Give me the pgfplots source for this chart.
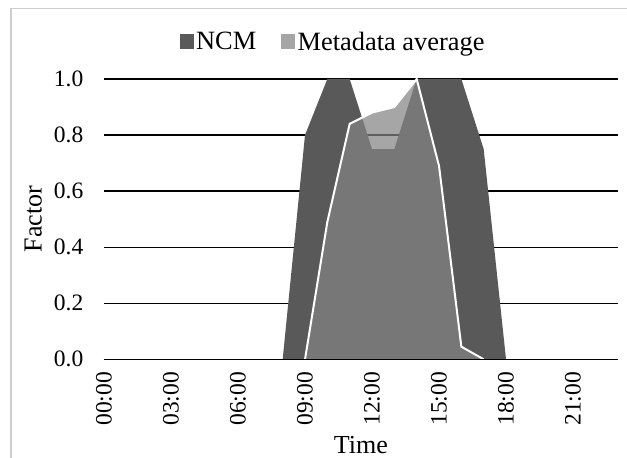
\documentclass[border=0pt]{standalone}
\usepackage{pgfplots}
\pgfplotsset{compat=1.18}
\usepackage{pgfplotstable}
\usepackage{fontspec}
\setmainfont{Liberation Serif}
\definecolor{ncm}{RGB}{89,89,89}
\definecolor{meta}{RGB}{131,131,131}
\definecolor{framec}{RGB}{205,205,205}

\pgfplotstableread{
h ncm meta
0 0 0
1 0 0
2 0 0
3 0 0
4 0 0
5 0 0
6 0 0
7 0 0
8 0 0
9 0.8 0
10 1.0 0.49
11 1.0 0.84
12 0.75 0.88
13 0.75 0.90
14 1.0 1.0
15 1.0 0.69
16 1.0 0.045
17 0.75 0
18 0 0
19 0 0
20 0 0
21 0 0
22 0 0
23 0 0
}\datatable

\begin{document}
\begin{tikzpicture}
\begin{axis}[
  anchor=south west, at={(0pt,0pt)},
  width=513.7pt, height=280.3pt, scale only axis,
  xmin=0, xmax=23, ymin=0, ymax=1,
  axis line style={draw=none},
  ymajorgrids, grid style={black, line width=1.3pt},
  major tick length=0pt,
  xtick={0,3,6,9,12,15,18,21},
  xticklabels={00:00,03:00,06:00,09:00,12:00,15:00,18:00,21:00},
  ytick={0,0.2,0.4,0.6,0.8,1},
  yticklabels={0.0,0.2,0.4,0.6,0.8,1.0},
  tick label style={font=\fontsize{23.5}{28}\selectfont, inner sep=0pt},
  xticklabel style={rotate=90, anchor=east},
  yticklabel style={anchor=east},
  xticklabel shift=12.5pt,
  yticklabel shift=20.5pt,
  label style={font=\fontsize{26}{30}\selectfont},
  xlabel={Time}, ylabel={Factor},
  xlabel style={at={(axis description cs:0.5,-0.3354)}, anchor=base},
  ylabel style={at={(axis description cs:-0.1213,0.5)}, anchor=base},
  legend columns=2,
  legend image code/.code={\fill[#1] (0pt,-7pt) rectangle (14pt,8pt);},
  legend style={at={(0.4464,1.132)}, anchor=center, draw=none, fill=none,
    font=\fontsize{26.4}{30}\selectfont,
    nodes={inner xsep=2.2pt, inner ysep=1pt},
    /tikz/every even column/.append style={column sep=23pt}},
]
\addplot[fill=ncm, draw=none] table[x=h, y=ncm]{\datatable} \closedcycle;
\addlegendentry{NCM}
\addplot[fill=meta, fill opacity=0.72, draw=none] table[x=h, y=meta]{\datatable} \closedcycle;
\addlegendentry{Metadata average}
\addplot[draw=white, line width=2pt, forget plot, restrict x to domain=9:17] table[x=h, y=meta]{\datatable};
\draw[black, line width=1.3pt] (axis cs:0,0) -- (axis cs:23,0);
\end{axis}
\draw[framec, line width=1.5pt] (-93pt,-102pt) -- (-93pt,350.8pt) -- (526pt,350.8pt);
\pgfresetboundingbox
\useasboundingbox (-104pt,-98.7pt) rectangle (523pt,359.3pt);
\end{tikzpicture}
\end{document}
